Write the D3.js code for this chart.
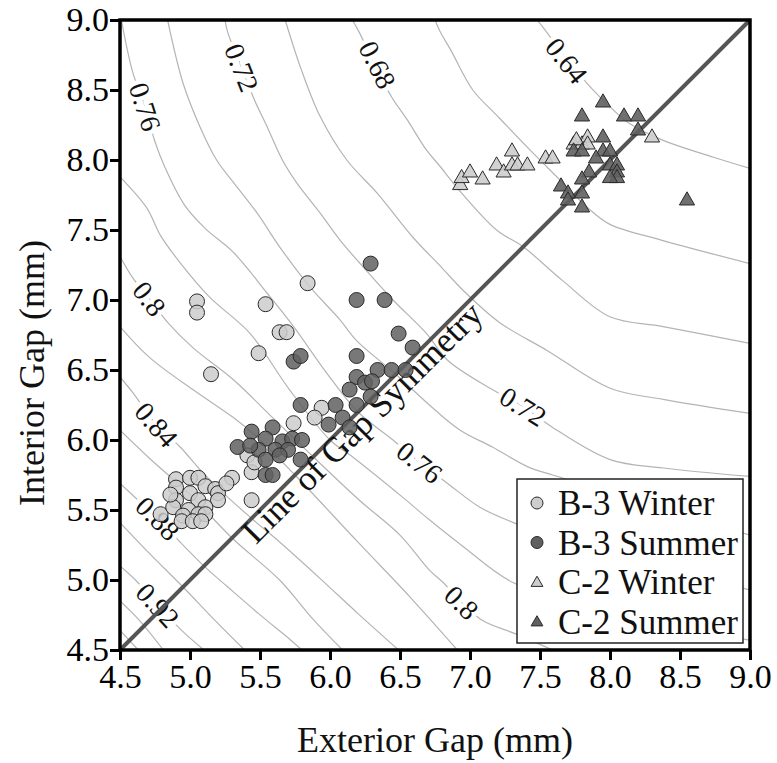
<!DOCTYPE html>
<html>
<head>
<meta charset="utf-8">
<script src="https://cdn.jsdelivr.net/npm/d3@7"></script>
<style>
  body { margin: 0; background: #fff; }
  svg { display: block; font-family: "Liberation Serif", "Times New Roman", serif; }
</style>
</head>
<body>
<svg id="chart" width="777" height="763"></svg>
<script>
// ---------------- data ----------------
const xTicks = [4.5, 5.0, 5.5, 6.0, 6.5, 7.0, 7.5, 8.0, 8.5, 9.0];
const yTicks = [4.5, 5.0, 5.5, 6.0, 6.5, 7.0, 7.5, 8.0, 8.5, 9.0];

// contour levels and the traced lines (exterior gap, interior gap)
const contourLevels = [0.64, 0.66, 0.68, 0.70, 0.72, 0.74, 0.76, 0.78, 0.80, 0.82, 0.84, 0.86, 0.88, 0.90, 0.92, 0.94, 0.96];
const contourLines = [
  [[7.48,9.00],[7.55,8.91],[7.70,8.71],[7.87,8.51],[8.00,8.38],[8.14,8.26],[8.38,8.14],[8.74,8.02],[9.00,7.94]],
  [[6.75,9.00],[6.79,8.91],[6.86,8.79],[7.02,8.50],[7.19,8.32],[7.43,8.07],[7.64,7.86],[7.84,7.66],[8.00,7.54],[8.36,7.43],[9.00,7.26]],
  [[6.16,9.00],[6.21,8.91],[6.32,8.68],[6.44,8.45],[6.55,8.29],[6.69,8.07],[6.79,7.95],[6.91,7.80],[7.19,7.50],[7.38,7.38],[7.66,7.14],[8.00,6.88],[8.38,6.81],[9.00,6.69]],
  [[5.68,9.00],[5.79,8.66],[5.93,8.31],[6.12,8.00],[6.34,7.76],[6.59,7.45],[6.79,7.24],[6.95,7.07],[7.21,6.84],[7.55,6.64],[8.00,6.37],[8.38,6.29],[9.00,6.19]],
  [[5.25,9.00],[5.27,8.91],[5.37,8.66],[5.46,8.43],[5.55,8.24],[5.66,8.00],[5.76,7.84],[5.93,7.62],[6.07,7.43],[6.26,7.21],[6.45,7.00],[6.69,6.76],[6.84,6.57],[7.16,6.36],[7.38,6.24],[7.59,6.09],[8.00,5.86],[8.38,5.80],[9.00,5.74]],
  [[4.84,9.00],[4.95,8.55],[5.07,8.24],[5.19,8.00],[5.31,7.84],[5.48,7.62],[5.64,7.38],[5.86,7.09],[6.07,6.86],[6.19,6.71],[6.47,6.47],[6.71,6.25],[6.93,6.07],[7.16,5.95],[7.41,5.81],[7.59,5.75],[8.07,5.61],[8.64,5.43],[9.00,5.32]],
  [[4.51,9.00],[4.59,8.63],[4.68,8.38],[4.75,8.13],[4.82,7.95],[4.96,7.68],[5.11,7.51],[5.31,7.34],[5.55,7.05],[5.74,6.81],[5.99,6.46],[6.20,6.20],[6.45,6.00],[6.64,5.84],[6.84,5.69],[7.07,5.52],[7.31,5.41],[7.93,5.18],[8.50,5.04],[9.00,4.93]],
  [[4.50,7.88],[4.69,7.66],[4.79,7.46],[4.95,7.24],[5.14,7.02],[5.43,6.76],[5.71,6.36],[6.00,6.00],[6.16,5.88],[6.52,5.59],[6.71,5.43],[6.95,5.24],[7.31,4.98],[7.93,4.79],[8.50,4.66],[9.00,4.57]],
  [[4.50,7.31],[4.59,7.16],[4.71,7.01],[4.84,6.84],[5.02,6.66],[5.31,6.43],[5.59,6.16],[5.88,5.88],[6.21,5.57],[6.50,5.32],[6.71,5.07],[6.81,4.98],[6.94,4.84],[7.09,4.71],[7.34,4.61],[7.59,4.50]],
  [[4.50,6.81],[4.71,6.59],[5.02,6.36],[5.31,6.16],[5.48,6.02],[5.75,5.75],[6.20,5.27],[6.57,4.88],[6.91,4.50]],
  [[4.50,6.45],[4.59,6.34],[4.76,6.11],[4.93,5.95],[5.07,5.79],[5.25,5.61],[5.44,5.44],[5.63,5.28],[5.93,5.01],[6.20,4.76],[6.49,4.50]],
  [[4.50,6.07],[4.71,5.87],[5.00,5.61],[5.30,5.30],[5.64,5.00],[5.87,4.73],[6.09,4.50]],
  [[4.50,5.69],[4.63,5.57],[4.77,5.44],[4.94,5.26],[5.11,5.09],[5.27,4.95],[5.49,4.76],[5.72,4.57],[5.80,4.50]],
  [[4.50,5.41],[4.71,5.19],[4.95,4.95],[5.18,4.71],[5.39,4.50]],
  [[4.50,5.10],[4.61,5.00],[4.77,4.82],[4.94,4.64],[5.10,4.50]],
  [[4.50,4.85],[4.64,4.71],[4.81,4.50]],
  [[4.50,4.64],[4.63,4.50]]
];

// inline contour labels: level and where it sits
const contourLabelLevels = [0.76, 0.72, 0.68, 0.64, 0.80, 0.84, 0.88, 0.92, 0.72, 0.76, 0.80];
const contourLabelPos = [[4.68,8.38],[5.37,8.66],[6.34,8.68],[7.69,8.71],[4.71,7.01],[4.76,6.11],[4.77,5.44],[4.77,4.82],[7.38,6.24],[6.64,5.84],[6.94,4.84]];

// measured gaps (exterior, interior) in mm
const b3Winter = [[5.84,7.12],[5.05,6.99],[5.05,6.91],[5.54,6.97],[5.64,6.77],[5.69,6.77],[5.49,6.62],[5.15,6.47],[5.94,6.23],[5.89,6.16],[5.74,6.12],[5.44,5.77],[5.30,5.73],[5.44,5.57],[5.41,5.89],[5.46,5.84],[4.79,5.47],[4.90,5.72],[5.00,5.73],[5.06,5.73],[4.90,5.66],[5.11,5.67],[5.18,5.65],[5.20,5.62],[5.00,5.62],[4.90,5.57],[5.06,5.57],[5.20,5.57],[4.88,5.52],[4.99,5.50],[5.11,5.52],[4.95,5.46],[5.06,5.47],[5.11,5.47],[4.94,5.42],[5.02,5.42],[5.08,5.42],[4.86,5.61],[5.26,5.69]];
const b3Summer = [[6.29,7.26],[6.19,7.00],[6.39,7.00],[6.49,6.76],[6.59,6.66],[6.19,6.60],[5.74,6.56],[5.79,6.60],[6.19,6.45],[6.25,6.41],[6.34,6.50],[6.44,6.50],[6.54,6.50],[6.30,6.42],[6.14,6.36],[6.29,6.31],[6.19,6.25],[6.04,6.25],[5.79,6.25],[6.09,6.16],[6.14,6.09],[5.99,6.11],[5.59,6.09],[5.44,6.06],[5.34,5.95],[5.54,6.01],[5.66,5.99],[5.73,6.01],[5.80,6.00],[5.49,5.93],[5.61,5.93],[5.70,5.93],[5.54,5.86],[5.79,5.86],[5.54,5.75],[5.59,5.75],[5.64,5.89],[5.43,5.96]];
const c2Winter = [[6.93,7.82],[6.94,7.87],[7.00,7.91],[7.09,7.86],[7.19,7.96],[7.24,7.91],[7.30,8.06],[7.30,7.96],[7.34,7.96],[7.41,7.96],[7.54,8.01],[7.59,8.01],[7.74,8.11],[7.80,8.11],[7.84,8.16],[7.84,8.11],[7.76,8.14],[8.30,8.16]];
const c2Summer = [[7.95,8.41],[7.80,8.31],[8.10,8.31],[8.20,8.31],[8.20,8.21],[7.95,8.16],[7.74,8.06],[7.80,8.06],[7.95,8.06],[8.00,8.06],[7.90,8.01],[8.00,7.96],[8.05,7.96],[8.05,7.91],[8.05,7.87],[8.00,7.87],[7.85,7.91],[7.80,7.86],[7.65,7.81],[7.70,7.76],[7.80,7.76],[7.70,7.71],[7.80,7.66],[8.55,7.71]];

const seriesNames = ["B-3 Winter", "B-3 Summer", "C-2 Winter", "C-2 Summer"];
const seriesData = [b3Winter, b3Summer, c2Winter, c2Summer];
const seriesShape = ["circle", "circle", "triangle", "triangle"];
const seriesFill = ["#cdcdcd", "#606060", "#cdcdcd", "#606060"];

// ---------------- layout ----------------
const W = 777, H = 763;
const margin = { top: 20, right: 27, bottom: 113, left: 120 };
const width = W - margin.left - margin.right;
const height = H - margin.top - margin.bottom;
const serif = '"Liberation Serif", "Times New Roman", serif';

const svg = d3.select("#chart");
const g = svg.append("g").attr("transform", `translate(${margin.left},${margin.top})`);

const x = d3.scaleLinear().domain([4.5, 9.0]).range([0, width]);
const y = d3.scaleLinear().domain([4.5, 9.0]).range([height, 0]);

svg.append("defs").append("clipPath").attr("id", "plot-clip")
  .append("rect").attr("width", width).attr("height", height);

// ---------------- contours ----------------
const line = d3.line()
  .x(d => x(d[0]))
  .y(d => y(d[1]))
  .curve(d3.curveCatmullRom.alpha(0.5));

const contourG = g.append("g").attr("clip-path", "url(#plot-clip)");
contourG.selectAll("path")
  .data(contourLines)
  .join("path")
  .attr("d", line)
  .attr("fill", "none")
  .attr("stroke", "#b4b4b4")
  .attr("stroke-width", 1.2);

// angle of the contour at the label spot
function labelAngle(path, pt) {
  const k = d3.minIndex(path, p => (p[0] - pt[0]) ** 2 + (p[1] - pt[1]) ** 2);
  const a = path[Math.max(0, k - 1)];
  const b = path[Math.min(path.length - 1, k + 1)];
  return Math.atan2(y(b[1]) - y(a[1]), x(b[0]) - x(a[0])) * 180 / Math.PI;
}

const fmtLevel = d3.format(".2~f");
g.append("g").selectAll("text")
  .data(contourLabelLevels)
  .join("text")
  .attr("transform", (lv, i) => {
    const p = contourLabelPos[i];
    const path = contourLines[contourLevels.findIndex(l => Math.abs(l - lv) < 1e-9)];
    return `translate(${x(p[0])},${y(p[1])}) rotate(${labelAngle(path, p)})`;
  })
  .attr("text-anchor", "middle")
  .attr("dy", "0.35em")
  .attr("font-size", 28)
  .attr("font-family", serif)
  .attr("fill", "#111")
  .attr("stroke", "#fff")
  .attr("stroke-width", 9)
  .attr("paint-order", "stroke")
  .text(lv => fmtLevel(lv));

// ---------------- symmetry line ----------------
g.append("line")
  .attr("x1", x(4.5)).attr("y1", y(4.5))
  .attr("x2", x(9.0)).attr("y2", y(9.0))
  .attr("stroke", "#555")
  .attr("stroke-width", 4);

const symStart = 5.36; // along the diagonal, in mm
const symOffset = 22;  // px below-right of the line
g.append("text")
  .attr("transform", `translate(${x(symStart) + symOffset / Math.SQRT2},${y(symStart) + symOffset / Math.SQRT2}) rotate(-45)`)
  .attr("font-size", 35)
  .attr("font-family", serif)
  .attr("fill", "#111")
  .text("Line of Gap Symmetry");

// ---------------- points ----------------
const tri = d3.symbol().type(d3.symbolTriangle).size(100);

seriesData.forEach((data, s) => {
  const layer = g.append("g").attr("class", "series-" + s);
  if (seriesShape[s] === "circle") {
    layer.selectAll("circle")
      .data(data)
      .join("circle")
      .attr("cx", d => x(d[0]))
      .attr("cy", d => y(d[1]))
      .attr("r", 7.5)
      .attr("fill", seriesFill[s])
      .attr("fill-opacity", 0.85)
      .attr("stroke", "#2a2a2a")
      .attr("stroke-width", 1);
  } else {
    layer.selectAll("path")
      .data(data)
      .join("path")
      .attr("transform", d => `translate(${x(d[0])},${y(d[1])})`)
      .attr("d", tri)
      .attr("fill", seriesFill[s])
      .attr("fill-opacity", 0.9)
      .attr("stroke", "#2a2a2a")
      .attr("stroke-width", 1);
  }
});

// ---------------- axes ----------------
const fmt = d3.format(".1f");

const xAxisG = g.append("g")
  .attr("transform", `translate(0,${height})`)
  .call(d3.axisBottom(x).tickValues(xTicks).tickFormat(fmt).tickSize(10).tickPadding(4));
const yAxisG = g.append("g")
  .call(d3.axisLeft(y).tickValues(yTicks).tickFormat(fmt).tickSize(10).tickPadding(1));

[xAxisG, yAxisG].forEach(a => {
  a.attr("font-family", serif).attr("font-size", 34);
  a.select(".domain").remove();
  a.selectAll(".tick line").attr("stroke", "#000").attr("stroke-width", 3);
  a.selectAll(".tick text").attr("fill", "#000");
});

g.append("rect")
  .attr("width", width)
  .attr("height", height)
  .attr("fill", "none")
  .attr("stroke", "#000")
  .attr("stroke-width", 3.5);

// axis titles
svg.append("text")
  .attr("x", margin.left + width / 2)
  .attr("y", 752)
  .attr("text-anchor", "middle")
  .attr("font-size", 36)
  .attr("font-family", serif)
  .attr("fill", "#111")
  .text("Exterior Gap (mm)");

svg.append("text")
  .attr("transform", `translate(44,373) rotate(-90)`)
  .attr("text-anchor", "middle")
  .attr("font-size", 36)
  .attr("font-family", serif)
  .attr("fill", "#111")
  .text("Interior Gap (mm)");

// ---------------- legend ----------------
const legW = 226, legH = 164;
const legend = g.append("g")
  .attr("transform", `translate(${width - 7 - legW},${height - 7 - legH})`);

legend.append("rect")
  .attr("width", legW)
  .attr("height", legH)
  .attr("fill", "#fff")
  .attr("stroke", "#222")
  .attr("stroke-width", 1.5);

const legTri = d3.symbol().type(d3.symbolTriangle).size(60);
const rows = legend.selectAll("g.row")
  .data(seriesNames)
  .join("g")
  .attr("class", "row")
  .attr("transform", (d, i) => `translate(0,${24 + i * 39.5})`);

rows.each(function (d, i) {
  const r = d3.select(this);
  if (seriesShape[i] === "circle") {
    r.append("circle").attr("cx", 20).attr("cy", 0).attr("r", 6)
      .attr("fill", seriesFill[i]).attr("stroke", "#2a2a2a").attr("stroke-width", 1);
  } else {
    r.append("path").attr("transform", "translate(20,1)").attr("d", legTri)
      .attr("fill", seriesFill[i]).attr("stroke", "#2a2a2a").attr("stroke-width", 1);
  }
  r.append("text")
    .attr("x", 41)
    .attr("dy", "0.35em")
    .attr("font-size", 35)
    .attr("font-family", serif)
    .attr("fill", "#111")
    .text(d);
});
</script>
</body>
</html>
